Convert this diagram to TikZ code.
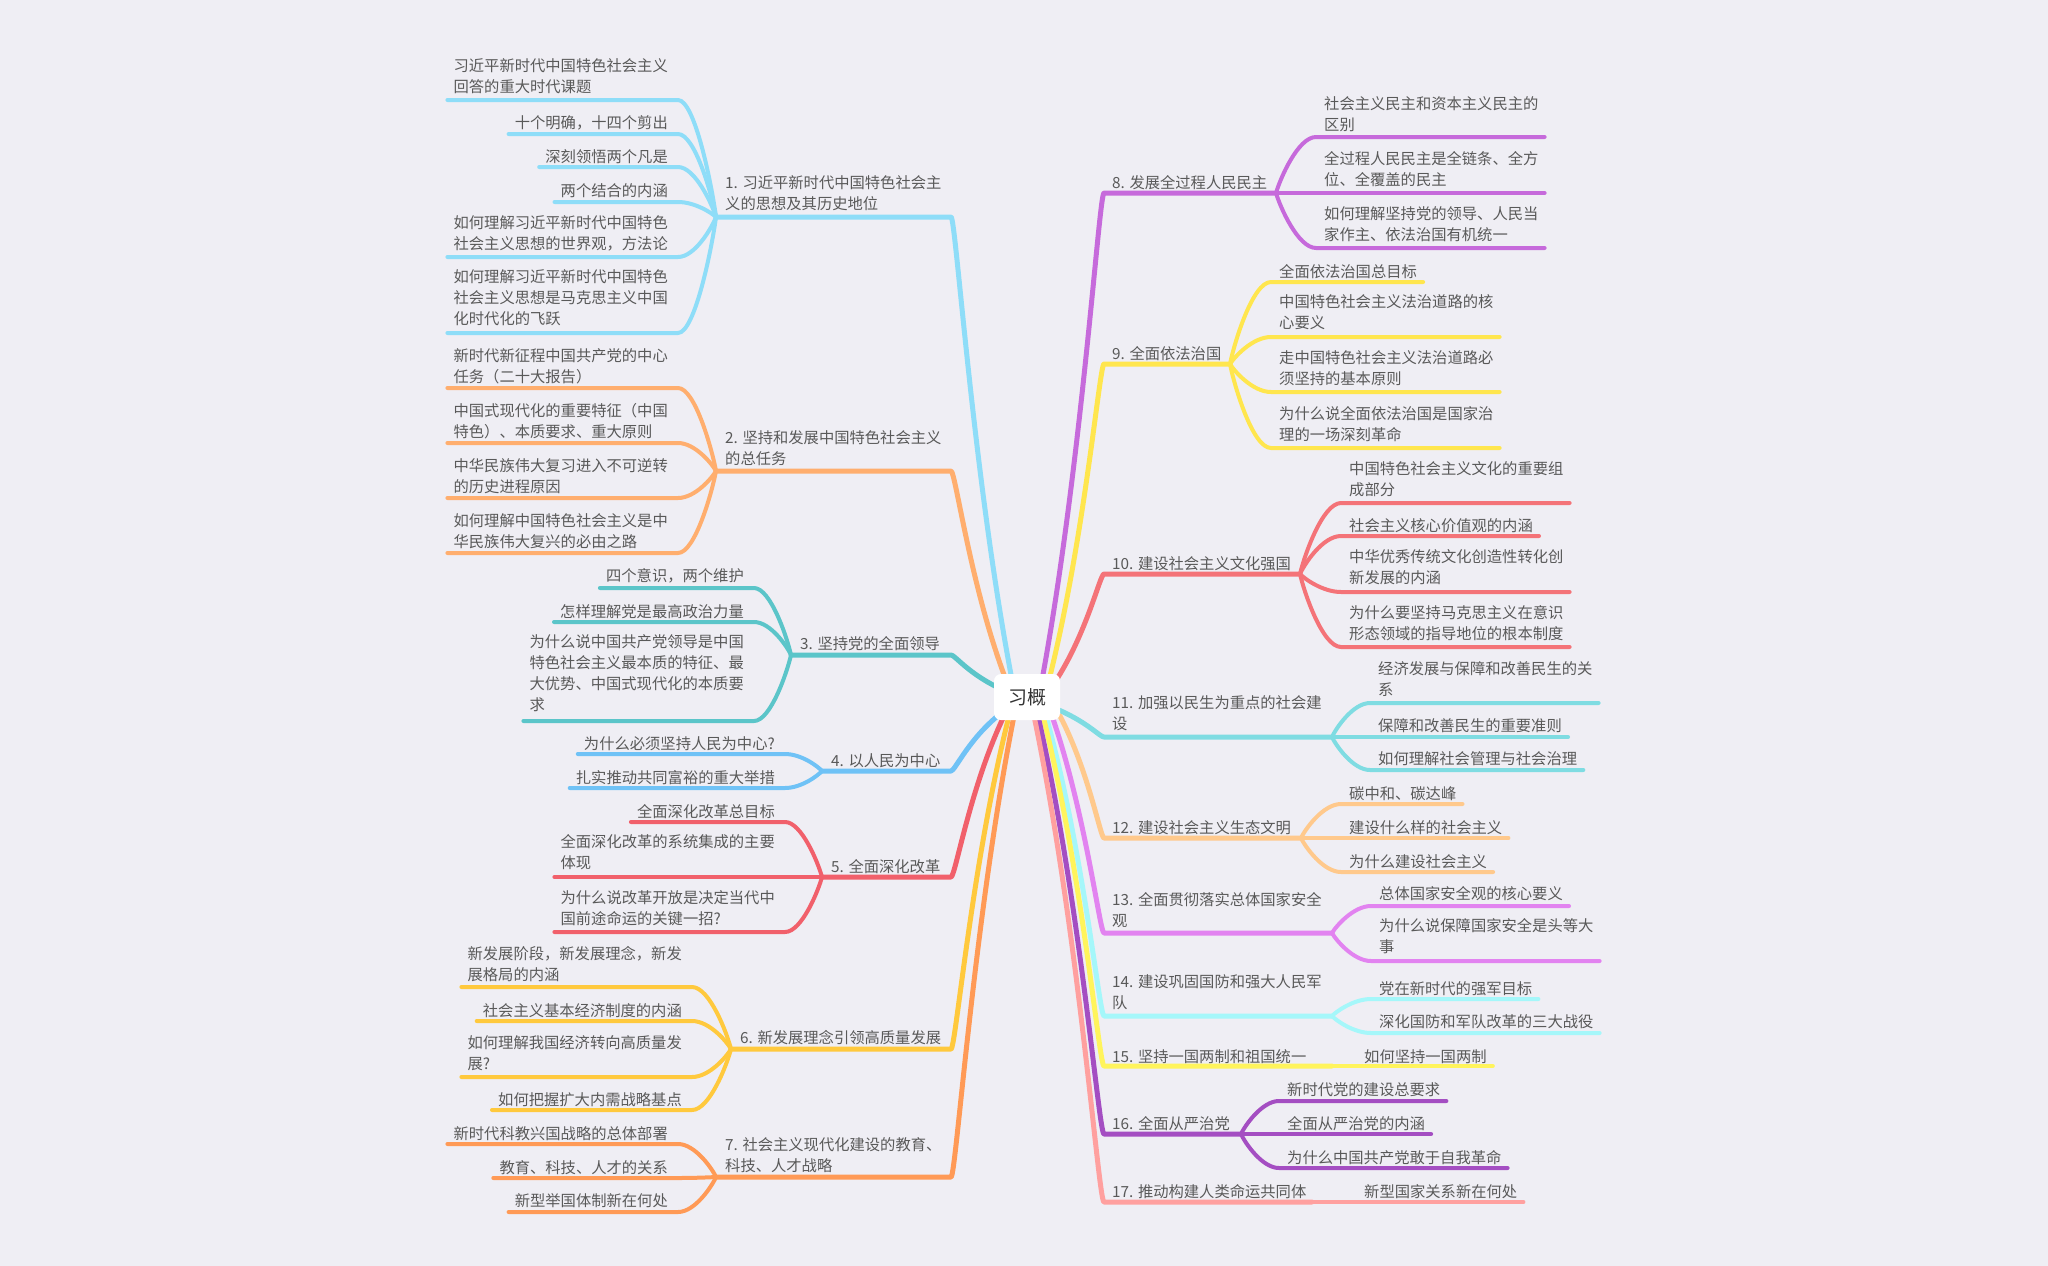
\documentclass[tikz,border=0pt]{standalone}
\usepackage{fontspec}
\newfontfamily\cjk{Noto Sans CJK SC}
\definecolor{bg}{HTML}{EFEEF4}
\definecolor{tx}{HTML}{595959}
\definecolor{c1}{HTML}{8EDDF8}
\definecolor{c2}{HTML}{FFAE6E}
\definecolor{c3}{HTML}{5BC5C9}
\definecolor{c4}{HTML}{6FC2F6}
\definecolor{c5}{HTML}{F1606B}
\definecolor{c6}{HTML}{FFC93D}
\definecolor{c7}{HTML}{FF9A56}
\definecolor{c8}{HTML}{C66ADB}
\definecolor{c9}{HTML}{FFE64E}
\definecolor{c10}{HTML}{F47378}
\definecolor{c11}{HTML}{7FDCE2}
\definecolor{c12}{HTML}{FFC98C}
\definecolor{c13}{HTML}{E283F0}
\definecolor{c14}{HTML}{A5F7FA}
\definecolor{c15}{HTML}{FFF45C}
\definecolor{c16}{HTML}{A44EC2}
\definecolor{c17}{HTML}{FFA09F}
\tikzset{
  topicline/.style={line width=5pt, line cap=round, line join=round},
  childline/.style={line width=4pt, line cap=round, line join=round},
  txt/.style={font=\cjk\fontsize{15.3}{21}\selectfont, text=tx, inner xsep=6pt, inner ysep=0pt,
    align=left, execute at begin node={\rule{0pt}{15pt}}, yshift=8.4pt},
  rootbox/.style={fill=white, rounded corners=7pt, minimum width=66pt, minimum height=46pt,
    inner sep=0pt, font=\cjk\fontsize{19}{19}\selectfont, text=black!80}
}
% left topic: name color jx yt yc text ex ey cx
\newcommand\LTopic[9]{%
  \def\TN{#1}\def\TC{#2}\def\JX{#3}\def\JY{#4}\def\CX{#9}%
  \coordinate (#1j) at (#3,#4);
  \coordinate (#1e) at (#7,#8);
  \node[txt,anchor=north west] (#1) at (#3+3,#5) {#6};
  \draw[topicline,#2] (#1j) -- (951,#4) .. controls ({951+0.08*(#7-951)},#4) and ({951+0.35*(#7-951)},{#4+0.55*(#8-#4)}) .. (#1e);
}
% left child: name yu yc text
\newcommand\LChild[4]{%
  \coordinate (#1u) at (\CX,#2);
  \node[txt,anchor=north east] (#1) at (\CX-4,#3) {#4};
  \draw[childline,\TC] (#1.west |- #1u) -- (#1u) .. controls ({\CX+0.45*(\JX-\CX)},#2) and ({\JX-0.1*(\JX-\CX)},{\JY-0.25*(\JY-#2)}) .. (\TN j);
}
% right topic: name color jx yt yc text ex ey cx
\newcommand\RTopic[9]{%
  \def\TN{#1}\def\TC{#2}\def\JX{#3}\def\JY{#4}\def\CX{#9}%
  \coordinate (#1j) at (#3,#4);
  \coordinate (#1e) at (#7,#8);
  \node[txt,anchor=north west] (#1) at (1106,#5) {#6};
  \draw[topicline,#2] (#1j) -- (1104,#4) .. controls ({1104-0.08*(1104-#7)},#4) and ({1104-0.35*(1104-#7)},{#4+0.55*(#8-#4)}) .. (#1e);
}
% right child: name yu yc text
\newcommand\RChild[4]{%
  \coordinate (#1u) at (\CX,#2);
  \node[txt,anchor=north west] (#1) at (\CX+2,#3) {#4};
  \draw[childline,\TC] (#1.east |- #1u) -- (#1u) .. controls ({\CX-0.45*(\CX-\JX)},#2) and ({\JX+0.1*(\CX-\JX)},{\JY-0.25*(\JY-#2)}) .. (\TN j);
}
\begin{document}
\begin{tikzpicture}[x=1pt,y=-1pt]
\fill[bg] (0,0) rectangle (2048,1266);
\useasboundingbox (0,0) rectangle (2048,1266);

% ---------- left side ----------
\LTopic{t1}{c1}{716}{217}{184}{1. 习近平新时代中国特色社会主\\义的思想及其历史地位}{1012}{680}{678}
\LChild{t1a}{100}{67}{习近平新时代中国特色社会主义\\回答的重大时代课题}
\LChild{t1b}{134}{122}{十个明确，十四个剪出}
\LChild{t1c}{167}{156}{深刻领悟两个凡是}
\LChild{t1d}{202}{190}{两个结合的内涵}
\LChild{t1e}{257}{224}{如何理解习近平新时代中国特色\\社会主义思想的世界观，方法论}
\LChild{t1f}{333}{278}{如何理解习近平新时代中国特色\\社会主义思想是马克思主义中国\\化时代化的飞跃}

\LTopic{t2}{c2}{716}{471}{439}{2. 坚持和发展中国特色社会主义\\的总任务}{1006}{680}{678}
\LChild{t2a}{388}{357}{新时代新征程中国共产党的中心\\任务（二十大报告）}
\LChild{t2b}{443}{412}{中国式现代化的重要特征（中国\\特色）、本质要求、重大原则}
\LChild{t2c}{498}{467}{中华民族伟大复习进入不可逆转\\的历史进程原因}
\LChild{t2d}{553}{522}{如何理解中国特色社会主义是中\\华民族伟大复兴的必由之路}

\LTopic{t3}{c3}{791}{655}{643}{3. 坚持党的全面领导}{999}{688}{754}
\LChild{t3a}{588}{575}{四个意识，两个维护}
\LChild{t3b}{622}{611}{怎样理解党是最高政治力量}
\LChild{t3c}{721}{643}{为什么说中国共产党领导是中国\\特色社会主义最本质的特征、最\\大优势、中国式现代化的本质要\\求}

\LTopic{t4}{c4}{822}{771}{760}{4. 以人民为中心}{1000}{714}{785}
\LChild{t4a}{754}{743}{为什么必须坚持人民为中心?}
\LChild{t4b}{788}{777}{扎实推动共同富裕的重大举措}

\LTopic{t5}{c5}{822}{877}{866}{5. 全面深化改革}{1004}{716}{785}
\LChild{t5a}{822}{811}{全面深化改革总目标}
\LChild{t5b}{877}{843}{全面深化改革的系统集成的主要\\体现}
\LChild{t5c}{932}{899}{为什么说改革开放是决定当代中\\国前途命运的关键一招?}

\LTopic{t6}{c6}{731}{1049}{1037}{6. 新发展理念引领高质量发展}{1009}{716}{692}
\LChild{t6a}{987}{955}{新发展阶段，新发展理念，新发\\展格局的内涵}
\LChild{t6b}{1021}{1010}{社会主义基本经济制度的内涵}
\LChild{t6c}{1077}{1044}{如何理解我国经济转向高质量发\\展?}
\LChild{t6d}{1110}{1099}{如何把握扩大内需战略基点}

\LTopic{t7}{c7}{716}{1177}{1146}{7. 社会主义现代化建设的教育、\\科技、人才战略}{1014}{716}{678}
\LChild{t7a}{1144}{1133}{新时代科教兴国战略的总体部署}
\LChild{t7b}{1178}{1167}{教育、科技、人才的关系}
\LChild{t7c}{1212}{1200}{新型举国体制新在何处}

% ---------- right side ----------
\RTopic{t8}{c8}{1276}{193}{182}{8. 发展全过程人民民主}{1042}{680}{1316}
\RChild{t8a}{137}{105}{社会主义民主和资本主义民主的\\区别}
\RChild{t8b}{193}{160}{全过程人民民主是全链条、全方\\位、全覆盖的民主}
\RChild{t8c}{248}{215}{如何理解坚持党的领导、人民当\\家作主、依法治国有机统一}

\RTopic{t9}{c9}{1230}{364}{353}{9. 全面依法治国}{1049}{680}{1271}
\RChild{t9a}{282}{271}{全面依法治国总目标}
\RChild{t9b}{337}{303}{中国特色社会主义法治道路的核\\心要义}
\RChild{t9c}{392}{359}{走中国特色社会主义法治道路必\\须坚持的基本原则}
\RChild{t9d}{448}{415}{为什么说全面依法治国是国家治\\理的一场深刻革命}

\RTopic{t10}{c10}{1300}{574}{563}{10. 建设社会主义文化强国}{1055}{682}{1341}
\RChild{t10a}{503}{470}{中国特色社会主义文化的重要组\\成部分}
\RChild{t10b}{536}{525}{社会主义核心价值观的内涵}
\RChild{t10c}{592}{558}{中华优秀传统文化创造性转化创\\新发展的内涵}
\RChild{t10d}{647}{614}{为什么要坚持马克思主义在意识\\形态领域的指导地位的根本制度}

\RTopic{t11}{c11}{1332}{737}{704}{11. 加强以民生为重点的社会建\\设}{1054}{708}{1370}
\RChild{t11a}{703}{670}{经济发展与保障和改善民生的关\\系}
\RChild{t11b}{737}{725}{保障和改善民生的重要准则}
\RChild{t11c}{770}{758}{如何理解社会管理与社会治理}

\RTopic{t12}{c12}{1301}{838}{827}{12. 建设社会主义生态文明}{1060}{716}{1341}
\RChild{t12a}{804}{793}{碳中和、碳达峰}
\RChild{t12b}{838}{827}{建设什么样的社会主义}
\RChild{t12c}{872}{861}{为什么建设社会主义}

\RTopic{t13}{c13}{1332}{933}{901}{13. 全面贯彻落实总体国家安全\\观}{1052}{716}{1371}
\RChild{t13a}{906}{893}{总体国家安全观的核心要义}
\RChild{t13b}{961}{927}{为什么说保障国家安全是头等大\\事}

\RTopic{t14}{c14}{1332}{1016}{983}{14. 建设巩固国防和强大人民军\\队}{1046}{716}{1371}
\RChild{t14a}{999}{988}{党在新时代的强军目标}
\RChild{t14b}{1033}{1021}{深化国防和军队改革的三大战役}

\RTopic{t15}{c15}{1332}{1066}{1056}{15. 坚持一国两制和祖国统一}{1043}{716}{1358}
\node[txt,anchor=north west] (t15a) at (1358,1056) {如何坚持一国两制};
\draw[childline,c15] (t15j) -- (t15a.east |- t15j);

\RTopic{t16}{c16}{1241}{1134}{1123}{16. 全面从严治党}{1038}{716}{1279}
\RChild{t16a}{1101}{1089}{新时代党的建设总要求}
\RChild{t16b}{1134}{1123}{全面从严治党的内涵}
\RChild{t16c}{1168}{1157}{为什么中国共产党敢于自我革命}

\RTopic{t17}{c17}{1312}{1202}{1191}{17. 推动构建人类命运共同体}{1034}{716}{1358}
\node[txt,anchor=north west] (t17a) at (1358,1191) {新型国家关系新在何处};
\draw[childline,c17] (t17j) -- (t17a.east |- t17j);

% ---------- root ----------
\node[rootbox] (root) at (1027,697) {习概};
\end{tikzpicture}
\end{document}
